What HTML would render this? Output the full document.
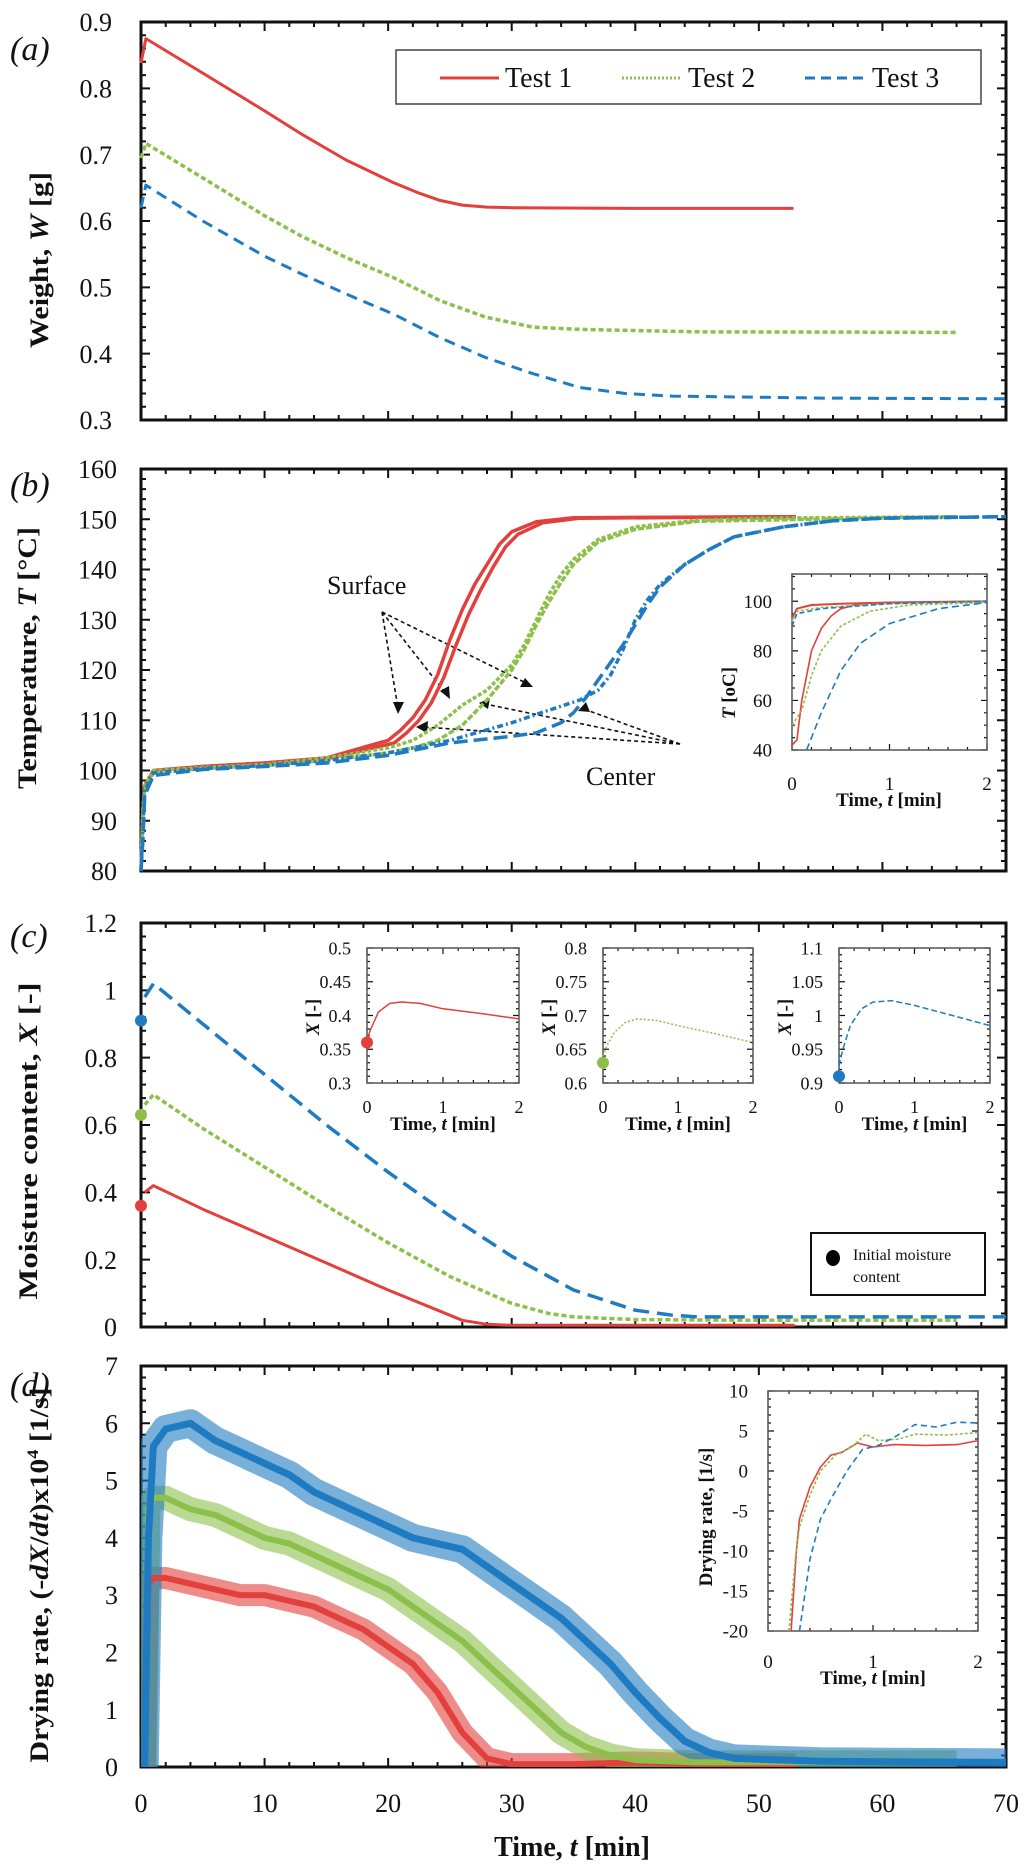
<!DOCTYPE html>
<html><head><meta charset="utf-8"><style>
html,body{margin:0;padding:0;background:#fff;}
svg text{font-family:"Liberation Serif",serif;fill:#111;}
</style></head><body>
<svg id="fig" width="1024" height="1869" viewBox="0 0 1024 1869" xmlns="http://www.w3.org/2000/svg">
<defs><clipPath id="clipd"><rect x="141" y="1366" width="865" height="401"/></clipPath></defs>
<text x="10" y="60" font-size="34" font-style="italic">(a)</text>
<text x="10" y="496" font-size="34" font-style="italic">(b)</text>
<text x="10" y="947" font-size="34" font-style="italic">(c)</text>
<text x="10" y="1396" font-size="34" font-style="italic">(d)</text>
<text transform="rotate(-90 48 260)" x="48" y="260" text-anchor="middle" font-size="26" font-weight="bold" textLength="176" lengthAdjust="spacingAndGlyphs">Weight, <tspan font-style="italic">W</tspan> [g]</text>
<text transform="rotate(-90 36 658)" x="36" y="658" text-anchor="middle" font-size="26" font-weight="bold" textLength="262" lengthAdjust="spacingAndGlyphs">Temperature, <tspan font-style="italic">T</tspan> [°C]</text>
<text transform="rotate(-90 37 1141)" x="37" y="1141" text-anchor="middle" font-size="26" font-weight="bold" textLength="317" lengthAdjust="spacingAndGlyphs">Moisture content, <tspan font-style="italic">X</tspan> [-]</text>
<text transform="rotate(-90 48 1575)" x="48" y="1575" text-anchor="middle" font-size="26" font-weight="bold" textLength="375" lengthAdjust="spacingAndGlyphs">Drying rate,  (-<tspan font-style="italic">dX</tspan>/<tspan font-style="italic">dt</tspan>)x10<tspan font-size="16" dy="-10">4</tspan><tspan dy="10"> [1/s]</tspan></text>
<text x="572" y="1856" text-anchor="middle" font-size="28" font-weight="bold">Time,  <tspan font-style="italic">t</tspan> [min]</text>

<g>
<rect x="396" y="50" width="585" height="54" fill="#fff" stroke="#444" stroke-width="1.5"/>
<line x1="440" y1="78" x2="499" y2="78" stroke="#e2403c" stroke-width="3"/>
<text x="505" y="87" font-size="28">Test 1</text>
<line x1="622" y1="78" x2="680" y2="78" stroke="#8cc04b" stroke-width="3" stroke-dasharray="2 2"/>
<text x="688" y="87" font-size="28">Test 2</text>
<line x1="805" y1="78" x2="866" y2="78" stroke="#1f7bc1" stroke-width="3" stroke-dasharray="10 6"/>
<text x="872" y="87" font-size="28">Test 3</text>
</g>

<g stroke="#111" stroke-width="1.6" stroke-dasharray="4 3" fill="none">
<line x1="382" y1="612" x2="398" y2="708"/><line x1="382" y1="612" x2="447" y2="695"/><line x1="382" y1="612" x2="528" y2="684"/>
<line x1="680" y1="744" x2="422" y2="727"/><line x1="680" y1="744" x2="485" y2="704"/><line x1="680" y1="744" x2="584" y2="709"/>
</g>
<g fill="#111">
<polygon points="398,714 393,702 404,702"/><polygon points="450,699 440,691 449,686"/><polygon points="533,687 520,687 525,678"/>
<polygon points="416,727 428,721 427,733"/><polygon points="479,703 490,698 488,709"/><polygon points="578,711 586,702 590,712"/>
</g>
<text x="327" y="594" font-size="26">Surface</text>
<text x="586" y="785" font-size="26">Center</text>

<g>
<rect x="811" y="1233" width="174" height="62" fill="#fff" stroke="#111" stroke-width="2"/>
<ellipse cx="833" cy="1258" rx="7" ry="8" fill="#000"/>
<text x="853" y="1260" font-size="16">Initial moisture</text>
<text x="853" y="1282" font-size="16">content</text>
</g>
</svg>
<script>
const NS='http://www.w3.org/2000/svg';
const svg=document.getElementById('fig');
const RED='#e2403c',GRN='#8cc04b',BLU='#1f7bc1';

// ---------- Panel a data ----------
const aT1=[0,0.4,5,10,12.9,16.6,20.4,22.5,24.2,26,28,30,40,52.8];
const aW1=[0.838,0.875,0.823,0.766,0.732,0.692,0.658,0.642,0.631,0.624,0.621,0.62,0.619,0.619];
const aT2=[0,0.4,5,10,12.9,16.6,20.4,24.2,27.9,31.7,35,37,45,66];
const aW2=[0.695,0.717,0.665,0.608,0.578,0.545,0.515,0.48,0.455,0.44,0.437,0.436,0.433,0.432];
const aT3=[0,0.4,5,10,12.9,16.6,20.4,24.2,27.9,31.7,35.5,39.2,43,55,70];
const aW3=[0.62,0.654,0.60,0.547,0.521,0.49,0.46,0.424,0.394,0.37,0.349,0.34,0.336,0.333,0.332];
const aTicks=['0.3','0.4','0.5','0.6','0.7','0.8','0.9'];

// ---------- Panel b data ----------
const bT1s=[0,0.15,0.3,1,5,10,15,20,21,22,23,24,25,26,27,28,29,30,32,35,53];
const bV1s=[80,92,97,100,100.8,101.5,102.5,106,108,110.5,114,119,126,132,137,141,145,147.5,149.5,150.3,150.5];
const bT1c=[0,0.15,0.3,1,5,10,15,20.5,21.5,22.5,23.5,24.5,25.5,26.5,27.5,28.5,29.5,30.5,32.5,35.5,53];
const bV1c=[80,91,97,100,100.8,101.5,102.3,105.5,107.5,110,113.5,118.5,125,131,136,140.5,144.5,147,149.3,150.2,150.5];
const bT2s=[0,0.15,0.3,1,5,10,15,20,22,24,26,28,30,31,32,33,34,35,37,40,45,50,66];
const bV2s=[80,92,97,100,100.6,101.2,102.5,104.5,106,109,113,116,121,125,130,135,139,142,146,148.5,149.8,150.2,150.5];
const bT2c=[0,0.15,0.3,1,5,10,15,20,22,24,26,28,30,31,32,33,34,35,37,40,45,66];
const bV2c=[80,90,96,99.5,100.4,101,102,103.5,104.5,106,109,114,120,124,129,133.5,137.5,141,145.5,148,149.6,150.5];
const bT3s=[0,0.15,0.3,1,5,10,15,20,25,30,33,35.5,37,38,39,40,41,42,44,46,48,52,56,60,70];
const bV3s=[80,88,96,99.5,100.4,101,102,103.5,106,109.5,112,114,116,119,124,130,134,137,141,144,146.5,148.5,149.7,150.2,150.5];
const bT3c=[0,0.15,0.3,1,5,10,15,20,25,30,32,34,35,36,37,38,39,40,41,42,44,46,48,52,56,60,70];
const bV3c=[80,86,95,99,100.2,100.8,101.5,103,105.5,106.8,107.5,109.5,111.5,114.5,118,121.5,125,129,133,136.5,141,144,146.5,148.5,149.7,150.2,150.5];
const bTicks=['80','90','100','110','120','130','140','150','160'];
// b inset
const biT1s=[0,0.05,0.2,0.5,1,2], biV1s=[93,97,98.5,99,99.5,100];
const biT2s=[0,0.05,0.3,1,2], biV2s=[92,96,97.5,99,100];
const biT3s=[0,0.05,0.3,1,2], biV3s=[90,95,97,99,100];
const biT1c=[0,0.05,0.1,0.2,0.3,0.4,0.5,0.7,1,2], biV1c=[42,44,60,80,89,94,97,99,99.5,100];
const biT2c=[0,0.1,0.2,0.3,0.5,0.8,1.2,2], biV2c=[50,56,70,80,90,96,98.5,99.5];
const biT3c=[0.15,0.3,0.5,0.7,1,1.5,2], biV3c=[40,55,72,83,91,97,99.5];
const biTicks=['40','60','80','100'];

// ---------- Panel c data ----------
const cT1=[0.3,1,5,10,15,20,24,26,28,30,40,52.9];
const cX1=[0.40,0.42,0.35,0.27,0.19,0.11,0.05,0.02,0.008,0.005,0.005,0.005];
const cT2=[0.3,1,5,10,15,20,25,30,33,35,40,50,66];
const cX2=[0.66,0.69,0.59,0.475,0.36,0.25,0.15,0.07,0.04,0.03,0.022,0.02,0.02];
const cT3=[0.3,1,5,10,15,20,25,30,35,40,43,45,50,70];
const cX3=[0.98,1.02,0.90,0.75,0.60,0.46,0.33,0.21,0.11,0.05,0.035,0.03,0.03,0.03];
const cInit=[0.36,0.63,0.91];
const cTicks=['0','0.2','0.4','0.6','0.8','1','1.2'];
// c insets
const ciT=[0,0.05,0.15,0.3,0.45,0.7,1,1.5,2];
const ciX1=[0.365,0.38,0.405,0.418,0.42,0.418,0.41,0.403,0.395];
const ciX2=[0.64,0.655,0.675,0.69,0.695,0.693,0.685,0.673,0.66];
const ciX3=[0.925,0.95,0.985,1.01,1.02,1.022,1.015,1.0,0.985];
const ciTicks1=['0.3','0.35','0.4','0.45','0.5'];
const ciTicks2=['0.6','0.65','0.7','0.75','0.8'];
const ciTicks3=['0.9','0.95','1','1.05','1.1'];

// ---------- Panel d data ----------
const dT1=[0,0.3,0.6,1,2,4,6,8,10,12,14,16,18,20,22,24,26,28,30,35,40,45,53];
const dR1=[0,0,3.2,3.3,3.3,3.2,3.1,3.0,3.0,2.9,2.8,2.6,2.4,2.1,1.8,1.3,0.6,0.15,0.05,0.05,0.08,0.05,0.05];
const dT2=[0,0.3,0.6,1,2,4,6,8,10,12,14,16,18,20,22,24,26,28,30,32,34,36,38,40,45,55,66];
const dR2=[0,0,4.5,4.7,4.7,4.5,4.4,4.2,4.0,3.9,3.7,3.5,3.3,3.1,2.8,2.5,2.2,1.8,1.4,1.0,0.6,0.35,0.2,0.12,0.08,0.08,0.08];
const dT3=[0,0.3,0.6,1,2,4,6,8,10,12,14,16,18,20,22,24,26,28,30,32,34,36,38,40,42,44,46,48,55,70];
const dR3=[0,0,4.0,5.6,5.9,6.0,5.7,5.5,5.3,5.1,4.8,4.6,4.4,4.2,4.0,3.9,3.8,3.5,3.2,2.9,2.6,2.2,1.8,1.3,0.85,0.45,0.25,0.15,0.1,0.08];
const dTicks=['0','1','2','3','4','5','6','7'];
const xTicks=['0','10','20','30','40','50','60','70'];
// d inset
const diT1=[0.22,0.27,0.3,0.4,0.5,0.6,0.7,0.85,1,1.2,1.5,1.8,2];
const diR1=[-20,-10,-6,-2,0.5,2,2.3,3.5,3,3.3,3.2,3.3,3.8];
const diT2=[0.2,0.26,0.3,0.4,0.5,0.65,0.8,0.93,1.05,1.25,1.4,1.7,2];
const diR2=[-20,-11,-7,-3,0,2.1,3,4.6,3.8,4,4.6,4.5,4.8];
const diT3=[0.3,0.4,0.5,0.6,0.75,0.9,1.05,1.2,1.4,1.6,1.8,2];
const diR3=[-20,-11,-6,-3.5,0,2.7,3.2,4.2,5.8,5.5,6.1,6];
const diTicks=['-20','-15','-10','-5','0','5','10'];
const inXTicks=['0','1','2'];

// ---------- helpers ----------
function mk(tag,attrs,parent){const e=document.createElementNS(NS,tag);for(const k in attrs)e.setAttribute(k,attrs[k]);(parent||svg).appendChild(e);return e;}

function axes(name,b,xd,yd,o){
  const sx=v=>b.x0+(v-xd[0])/(xd[1]-xd[0])*(b.x1-b.x0);
  const sy=v=>b.y1-(v-yd[0])/(yd[1]-yd[0])*(b.y1-b.y0);
  const g=mk('g',{});
  
  
  let d='';
  const nx=Math.round((xd[1]-xd[0])/o.xmin);
  for(let i=0;i<=nx;i++){const v=xd[0]+i*o.xmin;const X=sx(v);const maj=(i%o.xper===0);const L=maj?o.maj:o.min;
    d+=`M${X},${b.y1}v${-L}M${X},${b.y0}v${L}`;}
  const ny=Math.round((yd[1]-yd[0])/o.ymin);
  for(let i=0;i<=ny;i++){const v=yd[0]+i*o.ymin;const Y=sy(v);const maj=(i%o.yper===0);const L=maj?o.maj:o.min;
    d+=`M${b.x0},${Y}h${L}M${b.x1},${Y}h${-L}`;}
  const t=mk('path',{d:d,stroke:'#111','stroke-width':o.tw,fill:'none'},g);
  
  
  const r=mk('rect',{x:b.x0,y:b.y0,width:b.x1-b.x0,height:b.y1-b.y0,fill:'none',stroke:o.fc||'#111','stroke-width':o.sw},g);
  
  
  if(o.ylabels){o.ylabels.forEach((s,i)=>{const v=yd[0]+i*o.ystep;
    const tx=mk('text',{x:o.ylx,y:sy(v)+o.fs*0.35,'text-anchor':'end','font-size':o.fs},g);tx.textContent=s;
    
    });}
  if(o.xlabels){o.xlabels.forEach((s,i)=>{const v=xd[0]+i*o.xstep;
    const tx=mk('text',{x:sx(v),y:o.xly,'text-anchor':'middle','font-size':o.fs},g);tx.textContent=s;
    
    });}
  return {sx,sy};
}
function line(ax,ts,vs,color,w,dash,name,extra){
  let d='';ts.forEach((t,i)=>{d+=(i?'L':'M')+ax.sx(t).toFixed(1)+','+ax.sy(vs[i]).toFixed(1);});
  const p=mk('path',Object.assign({d:d,fill:'none',stroke:color,'stroke-width':w,'stroke-linejoin':'round'},dash?{'stroke-dasharray':dash}:{},extra||{}));
  
  
  return p;
}
const X0=141,X1=1006;
const mainOpt={xmin:2,xper:5,maj:9,min:5,tw:2,sw:3,fs:26};

// Panel a
const A=axes('panel-a-axes',{x0:X0,x1:X1,y0:22,y1:420},[0,70],[0.3,0.9],Object.assign({},mainOpt,{ymin:0.02,yper:5,ylabels:aTicks,ystep:0.1,ylx:112}));
line(A,aT1,aW1,RED,3,null,'weight-test1');
line(A,aT2,aW2,GRN,3.5,'5 3','weight-test2');
line(A,aT3,aW3,BLU,3,'11 7','weight-test3');

// Panel b
const B=axes('panel-b-axes',{x0:X0,x1:X1,y0:469,y1:871},[0,70],[80,160],Object.assign({},mainOpt,{ymin:2,yper:5,ylabels:bTicks,ystep:10,ylx:117}));
line(B,bT1s,bV1s,RED,3.5,null,'temp-test1-surface');
line(B,bT1c,bV1c,RED,3.5,null,'temp-test1-center');
line(B,bT2s,bV2s,GRN,3.5,'4 2','temp-test2-surface');
line(B,bT2c,bV2c,GRN,3.5,'6 2','temp-test2-center');
line(B,bT3s,bV3s,BLU,3.5,'6 3 2 3','temp-test3-surface');
line(B,bT3c,bV3c,BLU,3.5,'14 6','temp-test3-center');
// b inset
mk('rect',{x:792,y:574,width:195,height:176,fill:'#fff'});
const BI=axes('panel-b-inset',{x0:792,x1:987,y0:574,y1:750},[0,2],[40,111],{xmin:0.2,xper:5,maj:6,min:3,tw:1.2,sw:1.5,fc:'#555',fs:19,ymin:5,yper:4,ylabels:biTicks,ystep:20,ylx:772,xlabels:inXTicks,xstep:1,xly:790});
line(BI,biT1c,biV1c,RED,1.6,null,'inset-temp-test1-center');
line(BI,biT2c,biV2c,GRN,1.6,'3 2','inset-temp-test2-center');
line(BI,biT3c,biV3c,BLU,1.6,'7 4','inset-temp-test3-center');
line(BI,biT1s,biV1s,RED,2,null,'inset-temp-test1-surface');
line(BI,biT2s,biV2s,GRN,1.6,'3 2','inset-temp-test2-surface');
line(BI,biT3s,biV3s,BLU,1.6,'5 3','inset-temp-test3-surface');

// Panel c
const C=axes('panel-c-axes',{x0:X0,x1:X1,y0:923,y1:1327},[0,70],[0,1.2],Object.assign({},mainOpt,{ymin:0.04,yper:5,ylabels:cTicks,ystep:0.2,ylx:117}));
line(C,cT1,cX1,RED,3,null,'moisture-test1');
line(C,cT2,cX2,GRN,3.5,'5 3','moisture-test2');
line(C,cT3,cX3,BLU,3.5,'16 8','moisture-test3');
[RED,GRN,BLU].forEach((col,i)=>{const c=mk('circle',{cx:C.sx(0),cy:C.sy(cInit[i]),r:6,fill:col});
  
  });
// c insets
const cinsets=[[367,519,ciX1,ciTicks1,0.3,RED,null],[603,753,ciX2,ciTicks2,0.6,GRN,'2 2'],[839,990,ciX3,ciTicks3,0.9,BLU,'6 3']];
cinsets.forEach((ci,k)=>{
  const I=axes('panel-c-inset-'+(k+1),{x0:ci[0],x1:ci[1],y0:948,y1:1083},[0,2],[ci[4],ci[4]+0.2],{xmin:0.2,xper:5,maj:6,min:3,tw:1.2,sw:1.5,fc:'#555',fs:18,ymin:0.01,yper:5,ylabels:ci[3],ystep:0.05,ylx:ci[0]-16,xlabels:inXTicks,xstep:1,xly:1113});
  line(I,ciT,ci[2],ci[5],1.5,ci[6],'inset-moisture-test'+(k+1));
  const c=mk('circle',{cx:I.sx(0),cy:I.sy(cInit[k]),r:6,fill:ci[5]});
  
  
  const tt=mk('text',{x:(ci[0]+ci[1])/2,y:1130,'text-anchor':'middle','font-size':19,'font-weight':'bold'});
  tt.innerHTML='Time,  <tspan font-style="italic">t</tspan> [min]';
  
  
  const yt=mk('text',{x:ci[0]-48,y:1017,'text-anchor':'middle','font-size':19,'font-weight':'bold',transform:`rotate(-90 ${ci[0]-48} 1017)`});
  yt.innerHTML='<tspan font-style="italic">X</tspan> [-]';
  
  
});

// Panel d
const D=axes('panel-d-axes',{x0:X0,x1:X1,y0:1366,y1:1767},[0,70],[0,7],Object.assign({},mainOpt,{ymin:0.2,yper:5,ylabels:dTicks,ystep:1,ylx:118,xlabels:xTicks,xstep:10,xly:1812}));
const clipG={'clip-path':'url(#clipd)'};
line(D,dT1,dR1,RED,22,null,'rate-test1-band',Object.assign({opacity:0.6},clipG));
line(D,dT2,dR2,GRN,24,null,'rate-test2-band',Object.assign({opacity:0.6},clipG));
line(D,dT3,dR3,BLU,28,null,'rate-test3-band',Object.assign({opacity:0.6},clipG));
line(D,dT1,dR1,RED,6,null,'rate-test1',clipG);
line(D,dT2,dR2,GRN,6,null,'rate-test2',clipG);
line(D,dT3,dR3,BLU,7,null,'rate-test3',clipG);
// d inset
mk('rect',{x:768,y:1391,width:210,height:240,fill:'#fff'});
const DI=axes('panel-d-inset',{x0:768,x1:978,y0:1391,y1:1631},[0,2],[-20,10],{xmin:0.2,xper:5,maj:6,min:3,tw:1.2,sw:1.5,fc:'#555',fs:19,ymin:1,yper:5,ylabels:diTicks,ystep:5,ylx:748,xlabels:inXTicks,xstep:1,xly:1668});
line(DI,diT1,diR1,RED,1.6,null,'inset-rate-test1');
line(DI,diT2,diR2,GRN,1.6,'3 2','inset-rate-test2');
line(DI,diT3,diR3,BLU,1.6,'6 4','inset-rate-test3');
</script>
<script>
(function(){
const svg=document.getElementById('fig');
function t(x,y,html,tr){const e=document.createElementNS('http://www.w3.org/2000/svg','text');
e.setAttribute('x',x);e.setAttribute('y',y);e.setAttribute('text-anchor','middle');e.setAttribute('font-size','19');e.setAttribute('font-weight','bold');
if(tr)e.setAttribute('transform',tr);e.innerHTML=html;svg.appendChild(e);return e;}
const a=t(889,806,'Time,  <tspan font-style="italic">t</tspan> [min]');


const b=t(735,693,'<tspan font-style="italic">T</tspan> [oC]','rotate(-90 735 693)');


const c=t(873,1684,'Time,  <tspan font-style="italic">t</tspan> [min]');


const d=t(712,1517,'Drying rate,  [1/s]','rotate(-90 712 1517)');


})();
</script>
</body></html>
